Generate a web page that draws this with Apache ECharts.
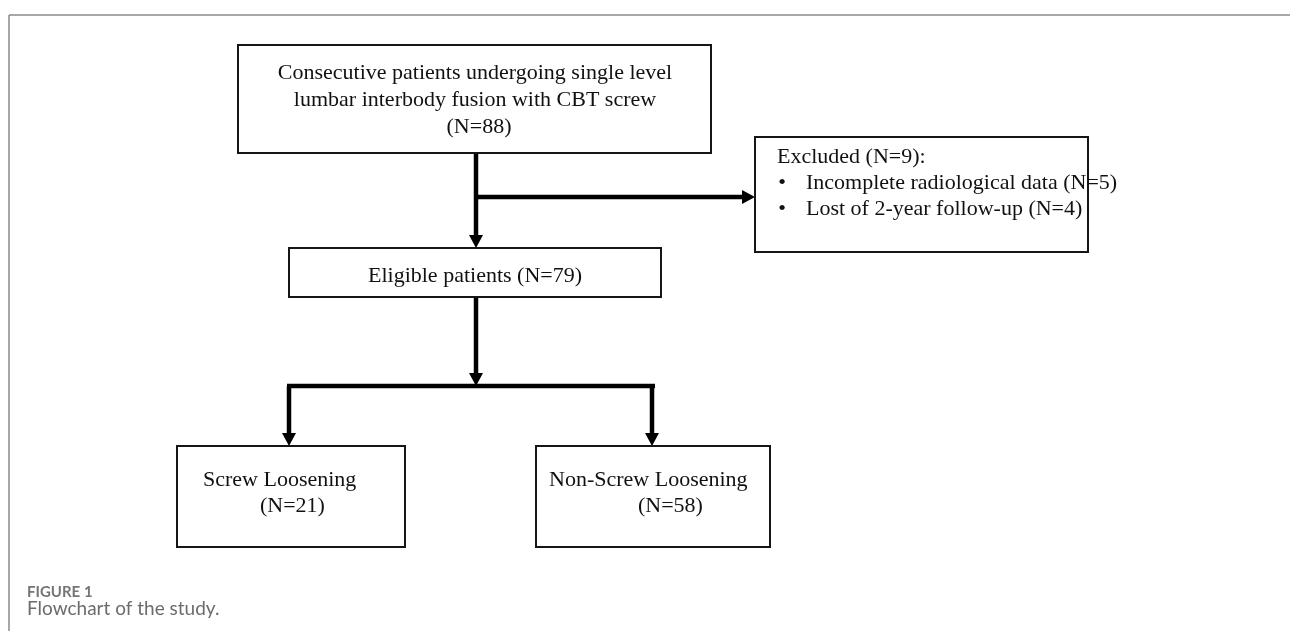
<!DOCTYPE html>
<html>
<head>
<meta charset="utf-8">
<style>
  html, body { margin: 0; padding: 0; background: #fff; }
  #container { width: 1290px; height: 631px; }
</style>
<script src="https://cdn.jsdelivr.net/npm/echarts@6/dist/echarts.min.js"></script>
</head>
<body>
<div id="container"></div>
<script>
// flowchart content
var boxLabels = ['Consecutive patients', 'Eligible patients', 'Excluded', 'Screw Loosening', 'Non-Screw Loosening'];
var boxCounts = [88, 79, 9, 21, 58];

// box extents, in axis units (x0, y0, x1, y1)
var boxRects = [
  [238, 45, 711, 153],
  [289, 248, 661, 297],
  [755, 137, 1088, 252],
  [177, 446, 405, 547],
  [536, 446, 770, 547]
];

// text lines of the boxes
var lineTexts = [
  'Consecutive patients undergoing single level',
  'lumbar interbody fusion with CBT screw',
  '(N=' + boxCounts[0] + ')',
  'Eligible patients (N=' + boxCounts[1] + ')',
  'Excluded (N=' + boxCounts[2] + '):',
  '\u2022',
  'Incomplete radiological data (N=5)',
  '\u2022',
  'Lost of 2-year follow-up (N=4)',
  'Screw Loosening',
  '(N=' + boxCounts[3] + ')',
  'Non-Screw Loosening',
  '(N=' + boxCounts[4] + ')'
];
var lineX = [475, 475, 479, 475, 777, 782, 806, 782, 806, 203, 260, 549, 638];
var lineY = [73, 100, 127, 276, 157, 183, 183, 209, 209, 480, 506, 480, 506];
var lineAlign = ['center', 'center', 'center', 'center', 'left', 'center', 'left', 'center', 'left', 'left', 'left', 'left', 'left'];

// connectors: from point, to point, arrow at the end (1) or not (0)
var links = [
  [476, 153, 476, 248, 1],
  [476, 197, 755, 197, 1],
  [476, 297, 476, 386, 1],
  [287, 386, 654, 386, 0],
  [289, 386, 289, 446, 1],
  [652, 386, 652, 446, 1]
];

var dom = document.getElementById('container');
var myChart = echarts.init(dom);

function renderBox(params, api) {
  var p0 = api.coord([api.value(0), api.value(1)]);
  var p1 = api.coord([api.value(2), api.value(3)]);
  return {
    type: 'rect',
    shape: { x: p0[0], y: p0[1], width: p1[0] - p0[0], height: p1[1] - p0[1] },
    style: { fill: '#fff', stroke: '#161616', lineWidth: 2 }
  };
}

function renderText(params, api) {
  var p = api.coord([api.value(0), api.value(1)]);
  return {
    type: 'text',
    style: {
      text: lineTexts[params.dataIndex],
      x: p[0],
      y: p[1],
      align: lineAlign[params.dataIndex],
      verticalAlign: 'middle',
      fill: '#111',
      font: '22px "Liberation Serif", "Times New Roman", serif'
    }
  };
}

function renderLink(params, api) {
  var a = api.coord([api.value(0), api.value(1)]);
  var b = api.coord([api.value(2), api.value(3)]);
  var arrow = api.value(4);
  var dx = b[0] - a[0], dy = b[1] - a[1];
  var len = Math.sqrt(dx * dx + dy * dy);
  var ux = dx / len, uy = dy / len;
  var head = 13, half = 7;
  var end = arrow ? [b[0] - ux * head, b[1] - uy * head] : b;
  var children = [{
    type: 'line',
    shape: { x1: a[0], y1: a[1], x2: end[0] + ux, y2: end[1] + uy },
    style: { stroke: '#000', lineWidth: 4.5 }
  }];
  if (arrow) {
    children.push({
      type: 'polygon',
      shape: {
        points: [
          [b[0], b[1]],
          [end[0] - uy * half, end[1] + ux * half],
          [end[0] + uy * half, end[1] - ux * half]
        ]
      },
      style: { fill: '#000' }
    });
  }
  return { type: 'group', children: children };
}

var option = {
  animation: false,
  backgroundColor: '#fff',
  title: [
    {
      text: 'FIGURE 1',
      left: 27,
      top: 584,
      padding: 0,
      textStyle: { fontFamily: 'Lato', fontSize: 15, fontWeight: 'bold', color: '#757575', lineHeight: 17 }
    },
    {
      text: 'Flowchart of the study.',
      left: 27,
      top: 598,
      padding: 0,
      textStyle: { fontFamily: 'Lato', fontSize: 19, fontWeight: 'normal', color: '#6c6c6c', lineHeight: 22 }
    }
  ],
  graphic: [
    { type: 'line', shape: { x1: 9, y1: 15, x2: 1290, y2: 15 }, style: { stroke: '#a8a8a8', lineWidth: 2 } },
    { type: 'line', shape: { x1: 9, y1: 15, x2: 9, y2: 631 }, style: { stroke: '#8a8a8a', lineWidth: 1.5 } }
  ],
  grid: { left: 0, right: 0, top: 0, bottom: 0 },
  xAxis: { type: 'value', min: 0, max: 1290, show: false },
  yAxis: { type: 'value', min: 0, max: 631, inverse: true, show: false },
  series: [
    {
      name: 'links',
      type: 'custom',
      renderItem: renderLink,
      data: links,
      z: 1
    },
    {
      name: 'boxes',
      type: 'custom',
      renderItem: renderBox,
      data: boxRects,
      z: 2
    },
    {
      name: 'text',
      type: 'custom',
      renderItem: renderText,
      data: lineX.map(function (x, i) { return [x, lineY[i]]; }),
      z: 3
    }
  ]
};

myChart.setOption(option);
</script>
</body>
</html>
